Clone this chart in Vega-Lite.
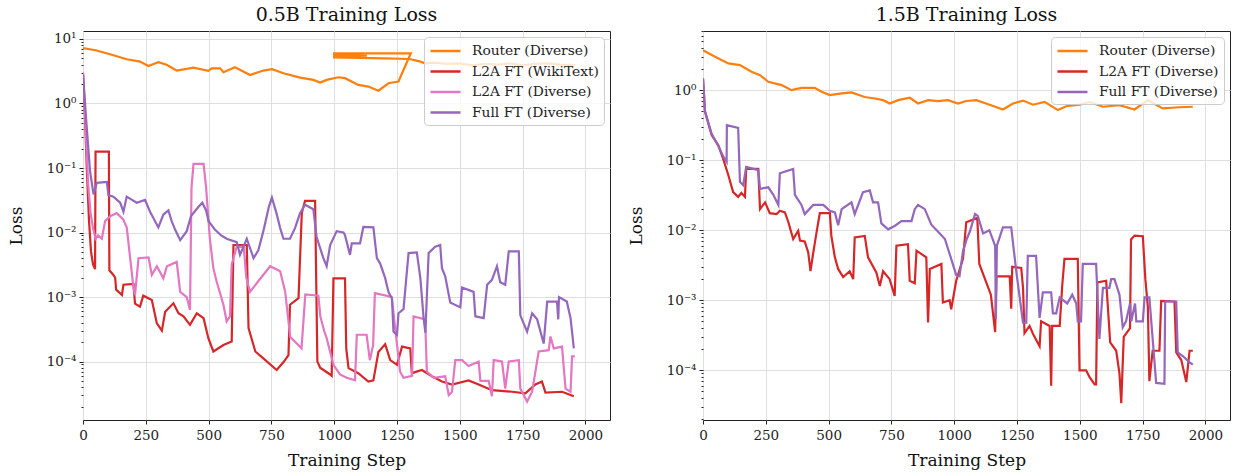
{
"$schema": "https://vega.github.io/schema/vega-lite/v6.json",
"padding": {"left": 6, "top": 5, "right": 2, "bottom": 2},
"background": "white",
"config": {
  "font": "DejaVu Serif",
  "view": {"stroke": "#222222", "strokeWidth": 1, "strokeOpacity": 1},
  "axis": {"labelFont": "DejaVu Serif", "titleFont": "DejaVu Serif", "labelFontSize": 13.5, "titleFontSize": 17, "titleFontWeight": "normal", "labelColor": "#222222", "titleColor": "#111111", "domain": false, "tickColor": "#222222", "gridColor": "#dedede", "gridWidth": 1},
  "title": {"font": "DejaVu Serif", "fontSize": 19, "fontWeight": "normal", "anchor": "middle", "offset": 6, "color": "#111111"},
  "legend": {"orient": "top-right", "offset": 6, "symbolType": "M-1,0L3,0", "symbolSize": 225, "symbolStrokeWidth": 2.5, "labelFont": "DejaVu Serif", "labelFontSize": 13.8, "labelColor": "#222222", "fillColor": "rgba(255,255,255,0.8)", "strokeColor": "#cccccc", "cornerRadius": 4, "padding": 5, "rowPadding": 4.5, "labelOffset": 25}
},
"datasets": {
"leftRouter": [
{"i":1,"s":"Router (Diverse)","x":0,"y":7.2},{"i":2,"s":"Router (Diverse)","x":50,"y":6.7},{"i":3,"s":"Router (Diverse)","x":108,"y":5.8},{"i":4,"s":"Router (Diverse)","x":174,"y":4.85},{"i":5,"s":"Router (Diverse)","x":227,"y":4.47},{"i":6,"s":"Router (Diverse)","x":260,"y":3.82},{"i":7,"s":"Router (Diverse)","x":300,"y":4.36},{"i":8,"s":"Router (Diverse)","x":333,"y":3.98},{"i":9,"s":"Router (Diverse)","x":373,"y":3.24},{"i":10,"s":"Router (Diverse)","x":440,"y":3.6},{"i":11,"s":"Router (Diverse)","x":499,"y":3.2},{"i":12,"s":"Router (Diverse)","x":512,"y":3.5},{"i":13,"s":"Router (Diverse)","x":546,"y":3.5},{"i":14,"s":"Router (Diverse)","x":559,"y":3.05},{"i":15,"s":"Router (Diverse)","x":605,"y":3.65},{"i":16,"s":"Router (Diverse)","x":665,"y":2.77},{"i":17,"s":"Router (Diverse)","x":718,"y":3.24},{"i":18,"s":"Router (Diverse)","x":753,"y":3.4},{"i":19,"s":"Router (Diverse)","x":798,"y":2.94},{"i":20,"s":"Router (Diverse)","x":864,"y":2.52},{"i":21,"s":"Router (Diverse)","x":917,"y":2.32},{"i":22,"s":"Router (Diverse)","x":944,"y":2.11},{"i":23,"s":"Router (Diverse)","x":970,"y":2.32},{"i":24,"s":"Router (Diverse)","x":1017,"y":2.55},{"i":25,"s":"Router (Diverse)","x":1043,"y":2.47},{"i":26,"s":"Router (Diverse)","x":1096,"y":1.94},{"i":27,"s":"Router (Diverse)","x":1136,"y":1.83},{"i":28,"s":"Router (Diverse)","x":1176,"y":1.58},{"i":29,"s":"Router (Diverse)","x":1216,"y":2.06},{"i":30,"s":"Router (Diverse)","x":1256,"y":2.19},{"i":31,"s":"Router (Diverse)","x":1305,"y":6.0},{"i":32,"s":"Router (Diverse)","x":1000,"y":6.0},{"i":33,"s":"Router (Diverse)","x":1000,"y":5.7},{"i":34,"s":"Router (Diverse)","x":1130,"y":5.5},{"i":35,"s":"Router (Diverse)","x":1000,"y":5.3},{"i":36,"s":"Router (Diverse)","x":1000,"y":5.2},{"i":37,"s":"Router (Diverse)","x":1100,"y":5.1},{"i":38,"s":"Router (Diverse)","x":1200,"y":5.0},{"i":39,"s":"Router (Diverse)","x":1300,"y":4.9},{"i":40,"s":"Router (Diverse)","x":1340,"y":4.5},{"i":41,"s":"Router (Diverse)","x":1362,"y":4.2},{"i":42,"s":"Router (Diverse)","x":1400,"y":4.3},{"i":43,"s":"Router (Diverse)","x":1450,"y":4.1},{"i":44,"s":"Router (Diverse)","x":1500,"y":4.2},{"i":45,"s":"Router (Diverse)","x":1550,"y":3.9},{"i":46,"s":"Router (Diverse)","x":1600,"y":4.1},{"i":47,"s":"Router (Diverse)","x":1650,"y":4.0},{"i":48,"s":"Router (Diverse)","x":1700,"y":4.2},{"i":49,"s":"Router (Diverse)","x":1750,"y":3.9},{"i":50,"s":"Router (Diverse)","x":1800,"y":4.1},{"i":51,"s":"Router (Diverse)","x":1850,"y":4.2},{"i":52,"s":"Router (Diverse)","x":1900,"y":4.0},{"i":53,"s":"Router (Diverse)","x":1959,"y":3.95}
],
"left": [
{"s":"L2A FT (WikiText)","x":0,"y":3.0},{"s":"L2A FT (WikiText)","x":8,"y":0.6},{"s":"L2A FT (WikiText)","x":16,"y":0.08},{"s":"L2A FT (WikiText)","x":24,"y":0.015},{"s":"L2A FT (WikiText)","x":32,"y":0.005},{"s":"L2A FT (WikiText)","x":40,"y":0.0032},{"s":"L2A FT (WikiText)","x":48,"y":0.0027},{"s":"L2A FT (WikiText)","x":50,"y":0.18},{"s":"L2A FT (WikiText)","x":103,"y":0.18},{"s":"L2A FT (WikiText)","x":105,"y":0.0026},{"s":"L2A FT (WikiText)","x":121,"y":0.0022},{"s":"L2A FT (WikiText)","x":128,"y":0.002},{"s":"L2A FT (WikiText)","x":132,"y":0.0013},{"s":"L2A FT (WikiText)","x":155,"y":0.00107},{"s":"L2A FT (WikiText)","x":161,"y":0.00155},{"s":"L2A FT (WikiText)","x":201,"y":0.0016},{"s":"L2A FT (WikiText)","x":207,"y":0.00079},{"s":"L2A FT (WikiText)","x":227,"y":0.00071},{"s":"L2A FT (WikiText)","x":240,"y":0.00105},{"s":"L2A FT (WikiText)","x":274,"y":0.0009},{"s":"L2A FT (WikiText)","x":294,"y":0.00039},{"s":"L2A FT (WikiText)","x":314,"y":0.0003},{"s":"L2A FT (WikiText)","x":327,"y":0.00059},{"s":"L2A FT (WikiText)","x":360,"y":0.0008},{"s":"L2A FT (WikiText)","x":380,"y":0.00056},{"s":"L2A FT (WikiText)","x":400,"y":0.0005},{"s":"L2A FT (WikiText)","x":426,"y":0.00037},{"s":"L2A FT (WikiText)","x":453,"y":0.00056},{"s":"L2A FT (WikiText)","x":480,"y":0.00047},{"s":"L2A FT (WikiText)","x":499,"y":0.00023},{"s":"L2A FT (WikiText)","x":519,"y":0.000143},{"s":"L2A FT (WikiText)","x":559,"y":0.00018},{"s":"L2A FT (WikiText)","x":592,"y":0.000205},{"s":"L2A FT (WikiText)","x":599,"y":0.0064},{"s":"L2A FT (WikiText)","x":652,"y":0.0064},{"s":"L2A FT (WikiText)","x":659,"y":0.00033},{"s":"L2A FT (WikiText)","x":686,"y":0.000143},{"s":"L2A FT (WikiText)","x":718,"y":0.000112},{"s":"L2A FT (WikiText)","x":771,"y":0.000074},{"s":"L2A FT (WikiText)","x":800,"y":0.0001},{"s":"L2A FT (WikiText)","x":818,"y":0.000126},{"s":"L2A FT (WikiText)","x":824,"y":0.00076},{"s":"L2A FT (WikiText)","x":858,"y":0.00096},{"s":"L2A FT (WikiText)","x":871,"y":0.02},{"s":"L2A FT (WikiText)","x":884,"y":0.031},{"s":"L2A FT (WikiText)","x":924,"y":0.031},{"s":"L2A FT (WikiText)","x":933,"y":0.0001},{"s":"L2A FT (WikiText)","x":944,"y":0.00008},{"s":"L2A FT (WikiText)","x":984,"y":0.000063},{"s":"L2A FT (WikiText)","x":990,"y":0.00006},{"s":"L2A FT (WikiText)","x":997,"y":0.00195},{"s":"L2A FT (WikiText)","x":1043,"y":0.00195},{"s":"L2A FT (WikiText)","x":1048,"y":0.00016},{"s":"L2A FT (WikiText)","x":1057,"y":0.000079},{"s":"L2A FT (WikiText)","x":1096,"y":0.000066},{"s":"L2A FT (WikiText)","x":1136,"y":0.000049},{"s":"L2A FT (WikiText)","x":1156,"y":0.000051},{"s":"L2A FT (WikiText)","x":1176,"y":0.00014},{"s":"L2A FT (WikiText)","x":1203,"y":0.000186},{"s":"L2A FT (WikiText)","x":1223,"y":0.000105},{"s":"L2A FT (WikiText)","x":1250,"y":0.000089},{"s":"L2A FT (WikiText)","x":1270,"y":0.00017},{"s":"L2A FT (WikiText)","x":1303,"y":0.00016},{"s":"L2A FT (WikiText)","x":1309,"y":0.000066},{"s":"L2A FT (WikiText)","x":1349,"y":0.000074},{"s":"L2A FT (WikiText)","x":1389,"y":0.000059},{"s":"L2A FT (WikiText)","x":1429,"y":0.000049},{"s":"L2A FT (WikiText)","x":1469,"y":0.000044},{"s":"L2A FT (WikiText)","x":1535,"y":0.000051},{"s":"L2A FT (WikiText)","x":1575,"y":0.000044},{"s":"L2A FT (WikiText)","x":1628,"y":0.000036},{"s":"L2A FT (WikiText)","x":1708,"y":0.000034},{"s":"L2A FT (WikiText)","x":1761,"y":0.000032},{"s":"L2A FT (WikiText)","x":1801,"y":0.000044},{"s":"L2A FT (WikiText)","x":1827,"y":0.000049},{"s":"L2A FT (WikiText)","x":1841,"y":0.000033},{"s":"L2A FT (WikiText)","x":1907,"y":0.000034},{"s":"L2A FT (WikiText)","x":1954,"y":0.000029},
{"s":"L2A FT (Diverse)","x":0,"y":3.0},{"s":"L2A FT (Diverse)","x":6,"y":1.2},{"s":"L2A FT (Diverse)","x":12,"y":0.3},{"s":"L2A FT (Diverse)","x":20,"y":0.06},{"s":"L2A FT (Diverse)","x":30,"y":0.02},{"s":"L2A FT (Diverse)","x":40,"y":0.0117},{"s":"L2A FT (Diverse)","x":50,"y":0.008},{"s":"L2A FT (Diverse)","x":60,"y":0.009},{"s":"L2A FT (Diverse)","x":75,"y":0.008},{"s":"L2A FT (Diverse)","x":88,"y":0.015},{"s":"L2A FT (Diverse)","x":110,"y":0.018},{"s":"L2A FT (Diverse)","x":134,"y":0.02},{"s":"L2A FT (Diverse)","x":160,"y":0.016},{"s":"L2A FT (Diverse)","x":174,"y":0.012},{"s":"L2A FT (Diverse)","x":185,"y":0.005},{"s":"L2A FT (Diverse)","x":200,"y":0.0015},{"s":"L2A FT (Diverse)","x":207,"y":0.00107},{"s":"L2A FT (Diverse)","x":221,"y":0.004},{"s":"L2A FT (Diverse)","x":261,"y":0.0041},{"s":"L2A FT (Diverse)","x":274,"y":0.0022},{"s":"L2A FT (Diverse)","x":294,"y":0.003},{"s":"L2A FT (Diverse)","x":320,"y":0.00195},{"s":"L2A FT (Diverse)","x":334,"y":0.003},{"s":"L2A FT (Diverse)","x":373,"y":0.0035},{"s":"L2A FT (Diverse)","x":387,"y":0.0012},{"s":"L2A FT (Diverse)","x":413,"y":0.001},{"s":"L2A FT (Diverse)","x":426,"y":0.00063},{"s":"L2A FT (Diverse)","x":432,"y":0.05},{"s":"L2A FT (Diverse)","x":440,"y":0.116},{"s":"L2A FT (Diverse)","x":480,"y":0.116},{"s":"L2A FT (Diverse)","x":490,"y":0.05},{"s":"L2A FT (Diverse)","x":505,"y":0.008},{"s":"L2A FT (Diverse)","x":519,"y":0.0028},{"s":"L2A FT (Diverse)","x":532,"y":0.00174},{"s":"L2A FT (Diverse)","x":559,"y":0.00076},{"s":"L2A FT (Diverse)","x":572,"y":0.00042},{"s":"L2A FT (Diverse)","x":585,"y":0.0005},{"s":"L2A FT (Diverse)","x":592,"y":0.0032},{"s":"L2A FT (Diverse)","x":612,"y":0.006},{"s":"L2A FT (Diverse)","x":640,"y":0.006},{"s":"L2A FT (Diverse)","x":650,"y":0.002},{"s":"L2A FT (Diverse)","x":665,"y":0.0012},{"s":"L2A FT (Diverse)","x":700,"y":0.0018},{"s":"L2A FT (Diverse)","x":745,"y":0.003},{"s":"L2A FT (Diverse)","x":785,"y":0.0025},{"s":"L2A FT (Diverse)","x":805,"y":0.0012},{"s":"L2A FT (Diverse)","x":825,"y":0.00024},{"s":"L2A FT (Diverse)","x":845,"y":0.0002},{"s":"L2A FT (Diverse)","x":870,"y":0.00016},{"s":"L2A FT (Diverse)","x":885,"y":0.0011},{"s":"L2A FT (Diverse)","x":937,"y":0.00105},{"s":"L2A FT (Diverse)","x":945,"y":0.0005},{"s":"L2A FT (Diverse)","x":960,"y":0.0003},{"s":"L2A FT (Diverse)","x":970,"y":0.00023},{"s":"L2A FT (Diverse)","x":997,"y":0.000089},{"s":"L2A FT (Diverse)","x":1023,"y":0.000063},{"s":"L2A FT (Diverse)","x":1050,"y":0.000056},{"s":"L2A FT (Diverse)","x":1083,"y":0.000051},{"s":"L2A FT (Diverse)","x":1090,"y":0.00026},{"s":"L2A FT (Diverse)","x":1129,"y":0.00026},{"s":"L2A FT (Diverse)","x":1142,"y":0.000105},{"s":"L2A FT (Diverse)","x":1155,"y":0.00018},{"s":"L2A FT (Diverse)","x":1162,"y":0.00115},{"s":"L2A FT (Diverse)","x":1229,"y":0.001},{"s":"L2A FT (Diverse)","x":1262,"y":0.00007},{"s":"L2A FT (Diverse)","x":1276,"y":0.000056},{"s":"L2A FT (Diverse)","x":1310,"y":0.00006},{"s":"L2A FT (Diverse)","x":1316,"y":0.0005},{"s":"L2A FT (Diverse)","x":1362,"y":0.00045},{"s":"L2A FT (Diverse)","x":1369,"y":0.00007},{"s":"L2A FT (Diverse)","x":1396,"y":0.000056},{"s":"L2A FT (Diverse)","x":1442,"y":0.000059},{"s":"L2A FT (Diverse)","x":1456,"y":0.00003},{"s":"L2A FT (Diverse)","x":1469,"y":0.000034},{"s":"L2A FT (Diverse)","x":1482,"y":0.000105},{"s":"L2A FT (Diverse)","x":1509,"y":0.000105},{"s":"L2A FT (Diverse)","x":1535,"y":0.000085},{"s":"L2A FT (Diverse)","x":1575,"y":0.0001},{"s":"L2A FT (Diverse)","x":1582,"y":0.00005},{"s":"L2A FT (Diverse)","x":1615,"y":0.00005},{"s":"L2A FT (Diverse)","x":1628,"y":0.000029},{"s":"L2A FT (Diverse)","x":1635,"y":0.000105},{"s":"L2A FT (Diverse)","x":1668,"y":0.0001},{"s":"L2A FT (Diverse)","x":1681,"y":0.000038},{"s":"L2A FT (Diverse)","x":1695,"y":0.0001},{"s":"L2A FT (Diverse)","x":1735,"y":0.000105},{"s":"L2A FT (Diverse)","x":1741,"y":0.000038},{"s":"L2A FT (Diverse)","x":1768,"y":0.000024},{"s":"L2A FT (Diverse)","x":1788,"y":0.000034},{"s":"L2A FT (Diverse)","x":1814,"y":0.000143},{"s":"L2A FT (Diverse)","x":1854,"y":0.00015},{"s":"L2A FT (Diverse)","x":1861,"y":0.000245},{"s":"L2A FT (Diverse)","x":1874,"y":0.00016},{"s":"L2A FT (Diverse)","x":1907,"y":0.00017},{"s":"L2A FT (Diverse)","x":1921,"y":0.000038},{"s":"L2A FT (Diverse)","x":1941,"y":0.000034},{"s":"L2A FT (Diverse)","x":1947,"y":0.00012},{"s":"L2A FT (Diverse)","x":1958,"y":0.00012},
{"s":"Full FT (Diverse)","x":0,"y":2.8},{"s":"Full FT (Diverse)","x":15,"y":0.42},{"s":"Full FT (Diverse)","x":28,"y":0.089},{"s":"Full FT (Diverse)","x":42,"y":0.039},{"s":"Full FT (Diverse)","x":55,"y":0.059},{"s":"Full FT (Diverse)","x":95,"y":0.061},{"s":"Full FT (Diverse)","x":101,"y":0.038},{"s":"Full FT (Diverse)","x":121,"y":0.036},{"s":"Full FT (Diverse)","x":148,"y":0.029},{"s":"Full FT (Diverse)","x":161,"y":0.021},{"s":"Full FT (Diverse)","x":174,"y":0.036},{"s":"Full FT (Diverse)","x":214,"y":0.029},{"s":"Full FT (Diverse)","x":247,"y":0.032},{"s":"Full FT (Diverse)","x":267,"y":0.021},{"s":"Full FT (Diverse)","x":300,"y":0.012},{"s":"Full FT (Diverse)","x":320,"y":0.019},{"s":"Full FT (Diverse)","x":340,"y":0.022},{"s":"Full FT (Diverse)","x":353,"y":0.015},{"s":"Full FT (Diverse)","x":367,"y":0.011},{"s":"Full FT (Diverse)","x":387,"y":0.0076},{"s":"Full FT (Diverse)","x":413,"y":0.0105},{"s":"Full FT (Diverse)","x":430,"y":0.018},{"s":"Full FT (Diverse)","x":460,"y":0.025},{"s":"Full FT (Diverse)","x":475,"y":0.029},{"s":"Full FT (Diverse)","x":490,"y":0.022},{"s":"Full FT (Diverse)","x":500,"y":0.015},{"s":"Full FT (Diverse)","x":526,"y":0.011},{"s":"Full FT (Diverse)","x":550,"y":0.009},{"s":"Full FT (Diverse)","x":572,"y":0.008},{"s":"Full FT (Diverse)","x":612,"y":0.0071},{"s":"Full FT (Diverse)","x":625,"y":0.0045},{"s":"Full FT (Diverse)","x":652,"y":0.008},{"s":"Full FT (Diverse)","x":679,"y":0.004},{"s":"Full FT (Diverse)","x":698,"y":0.0053},{"s":"Full FT (Diverse)","x":718,"y":0.0105},{"s":"Full FT (Diverse)","x":740,"y":0.025},{"s":"Full FT (Diverse)","x":752,"y":0.035},{"s":"Full FT (Diverse)","x":770,"y":0.02},{"s":"Full FT (Diverse)","x":785,"y":0.0117},{"s":"Full FT (Diverse)","x":798,"y":0.008},{"s":"Full FT (Diverse)","x":824,"y":0.008},{"s":"Full FT (Diverse)","x":844,"y":0.0117},{"s":"Full FT (Diverse)","x":864,"y":0.02},{"s":"Full FT (Diverse)","x":884,"y":0.027},{"s":"Full FT (Diverse)","x":917,"y":0.023},{"s":"Full FT (Diverse)","x":930,"y":0.0085},{"s":"Full FT (Diverse)","x":957,"y":0.004},{"s":"Full FT (Diverse)","x":970,"y":0.003},{"s":"Full FT (Diverse)","x":984,"y":0.0064},{"s":"Full FT (Diverse)","x":1010,"y":0.0105},{"s":"Full FT (Diverse)","x":1037,"y":0.01},{"s":"Full FT (Diverse)","x":1043,"y":0.0091},{"s":"Full FT (Diverse)","x":1063,"y":0.0045},{"s":"Full FT (Diverse)","x":1070,"y":0.0068},{"s":"Full FT (Diverse)","x":1103,"y":0.0068},{"s":"Full FT (Diverse)","x":1116,"y":0.0122},{"s":"Full FT (Diverse)","x":1156,"y":0.012},{"s":"Full FT (Diverse)","x":1170,"y":0.004},{"s":"Full FT (Diverse)","x":1183,"y":0.0033},{"s":"Full FT (Diverse)","x":1203,"y":0.00196},{"s":"Full FT (Diverse)","x":1216,"y":0.0012},{"s":"Full FT (Diverse)","x":1230,"y":0.00095},{"s":"Full FT (Diverse)","x":1236,"y":0.00029},{"s":"Full FT (Diverse)","x":1250,"y":0.00026},{"s":"Full FT (Diverse)","x":1256,"y":0.00056},{"s":"Full FT (Diverse)","x":1276,"y":0.00065},{"s":"Full FT (Diverse)","x":1296,"y":0.0048},{"s":"Full FT (Diverse)","x":1329,"y":0.0049},{"s":"Full FT (Diverse)","x":1343,"y":0.00196},{"s":"Full FT (Diverse)","x":1356,"y":0.00047},{"s":"Full FT (Diverse)","x":1363,"y":0.00028},{"s":"Full FT (Diverse)","x":1376,"y":0.0048},{"s":"Full FT (Diverse)","x":1402,"y":0.006},{"s":"Full FT (Diverse)","x":1422,"y":0.0064},{"s":"Full FT (Diverse)","x":1429,"y":0.0028},{"s":"Full FT (Diverse)","x":1442,"y":0.0021},{"s":"Full FT (Diverse)","x":1462,"y":0.00082},{"s":"Full FT (Diverse)","x":1502,"y":0.00069},{"s":"Full FT (Diverse)","x":1509,"y":0.0014},{"s":"Full FT (Diverse)","x":1555,"y":0.0012},{"s":"Full FT (Diverse)","x":1562,"y":0.0005},{"s":"Full FT (Diverse)","x":1595,"y":0.00047},{"s":"Full FT (Diverse)","x":1609,"y":0.00155},{"s":"Full FT (Diverse)","x":1628,"y":0.00185},{"s":"Full FT (Diverse)","x":1648,"y":0.003},{"s":"Full FT (Diverse)","x":1661,"y":0.0017},{"s":"Full FT (Diverse)","x":1681,"y":0.00155},{"s":"Full FT (Diverse)","x":1695,"y":0.0051},{"s":"Full FT (Diverse)","x":1735,"y":0.0051},{"s":"Full FT (Diverse)","x":1741,"y":0.00052},{"s":"Full FT (Diverse)","x":1768,"y":0.00029},{"s":"Full FT (Diverse)","x":1788,"y":0.00056},{"s":"Full FT (Diverse)","x":1808,"y":0.00045},{"s":"Full FT (Diverse)","x":1834,"y":0.00019},{"s":"Full FT (Diverse)","x":1848,"y":0.00085},{"s":"Full FT (Diverse)","x":1887,"y":0.00085},{"s":"Full FT (Diverse)","x":1892,"y":0.00045},{"s":"Full FT (Diverse)","x":1895,"y":0.001},{"s":"Full FT (Diverse)","x":1926,"y":0.00085},{"s":"Full FT (Diverse)","x":1941,"y":0.00047},{"s":"Full FT (Diverse)","x":1954,"y":0.00016}
],
"right": [
{"s":"Router (Diverse)","x":0,"y":3.73},{"s":"Router (Diverse)","x":48,"y":3.0},{"s":"Router (Diverse)","x":101,"y":2.41},{"s":"Router (Diverse)","x":147,"y":2.28},{"s":"Router (Diverse)","x":193,"y":1.83},{"s":"Router (Diverse)","x":227,"y":1.64},{"s":"Router (Diverse)","x":260,"y":1.32},{"s":"Router (Diverse)","x":313,"y":1.18},{"s":"Router (Diverse)","x":352,"y":1.0},{"s":"Router (Diverse)","x":393,"y":1.08},{"s":"Router (Diverse)","x":445,"y":1.08},{"s":"Router (Diverse)","x":472,"y":0.95},{"s":"Router (Diverse)","x":505,"y":0.85},{"s":"Router (Diverse)","x":552,"y":0.9},{"s":"Router (Diverse)","x":591,"y":0.93},{"s":"Router (Diverse)","x":644,"y":0.8},{"s":"Router (Diverse)","x":684,"y":0.76},{"s":"Router (Diverse)","x":717,"y":0.72},{"s":"Router (Diverse)","x":743,"y":0.645},{"s":"Router (Diverse)","x":777,"y":0.72},{"s":"Router (Diverse)","x":823,"y":0.78},{"s":"Router (Diverse)","x":856,"y":0.645},{"s":"Router (Diverse)","x":896,"y":0.72},{"s":"Router (Diverse)","x":936,"y":0.7},{"s":"Router (Diverse)","x":975,"y":0.72},{"s":"Router (Diverse)","x":1015,"y":0.645},{"s":"Router (Diverse)","x":1048,"y":0.7},{"s":"Router (Diverse)","x":1088,"y":0.72},{"s":"Router (Diverse)","x":1141,"y":0.62},{"s":"Router (Diverse)","x":1194,"y":0.53},{"s":"Router (Diverse)","x":1234,"y":0.645},{"s":"Router (Diverse)","x":1274,"y":0.71},{"s":"Router (Diverse)","x":1314,"y":0.62},{"s":"Router (Diverse)","x":1360,"y":0.68},{"s":"Router (Diverse)","x":1413,"y":0.52},{"s":"Router (Diverse)","x":1446,"y":0.59},{"s":"Router (Diverse)","x":1499,"y":0.62},{"s":"Router (Diverse)","x":1539,"y":0.68},{"s":"Router (Diverse)","x":1592,"y":0.58},{"s":"Router (Diverse)","x":1658,"y":0.61},{"s":"Router (Diverse)","x":1718,"y":0.53},{"s":"Router (Diverse)","x":1771,"y":0.72},{"s":"Router (Diverse)","x":1830,"y":0.55},{"s":"Router (Diverse)","x":1897,"y":0.57},{"s":"Router (Diverse)","x":1950,"y":0.58},
{"s":"L2A FT (Diverse)","x":0,"y":1.47},{"s":"L2A FT (Diverse)","x":8,"y":0.49},{"s":"L2A FT (Diverse)","x":34,"y":0.23},{"s":"L2A FT (Diverse)","x":61,"y":0.163},{"s":"L2A FT (Diverse)","x":80,"y":0.105},{"s":"L2A FT (Diverse)","x":101,"y":0.061},{"s":"L2A FT (Diverse)","x":120,"y":0.035},{"s":"L2A FT (Diverse)","x":140,"y":0.03},{"s":"L2A FT (Diverse)","x":153,"y":0.034},{"s":"L2A FT (Diverse)","x":167,"y":0.03},{"s":"L2A FT (Diverse)","x":172,"y":0.075},{"s":"L2A FT (Diverse)","x":220,"y":0.075},{"s":"L2A FT (Diverse)","x":227,"y":0.02},{"s":"L2A FT (Diverse)","x":247,"y":0.025},{"s":"L2A FT (Diverse)","x":266,"y":0.0175},{"s":"L2A FT (Diverse)","x":293,"y":0.017},{"s":"L2A FT (Diverse)","x":306,"y":0.019},{"s":"L2A FT (Diverse)","x":326,"y":0.018},{"s":"L2A FT (Diverse)","x":340,"y":0.013},{"s":"L2A FT (Diverse)","x":359,"y":0.0075},{"s":"L2A FT (Diverse)","x":379,"y":0.0098},{"s":"L2A FT (Diverse)","x":386,"y":0.0071},{"s":"L2A FT (Diverse)","x":405,"y":0.0069},{"s":"L2A FT (Diverse)","x":419,"y":0.0048},{"s":"L2A FT (Diverse)","x":428,"y":0.0026},{"s":"L2A FT (Diverse)","x":439,"y":0.0048},{"s":"L2A FT (Diverse)","x":452,"y":0.0093},{"s":"L2A FT (Diverse)","x":465,"y":0.0175},{"s":"L2A FT (Diverse)","x":505,"y":0.0175},{"s":"L2A FT (Diverse)","x":511,"y":0.0083},{"s":"L2A FT (Diverse)","x":525,"y":0.0041},{"s":"L2A FT (Diverse)","x":538,"y":0.0028},{"s":"L2A FT (Diverse)","x":558,"y":0.00215},{"s":"L2A FT (Diverse)","x":584,"y":0.0026},{"s":"L2A FT (Diverse)","x":598,"y":0.002},{"s":"L2A FT (Diverse)","x":604,"y":0.0079},{"s":"L2A FT (Diverse)","x":644,"y":0.0083},{"s":"L2A FT (Diverse)","x":657,"y":0.0041},{"s":"L2A FT (Diverse)","x":690,"y":0.0025},{"s":"L2A FT (Diverse)","x":704,"y":0.0016},{"s":"L2A FT (Diverse)","x":717,"y":0.0026},{"s":"L2A FT (Diverse)","x":743,"y":0.002},{"s":"L2A FT (Diverse)","x":763,"y":0.00115},{"s":"L2A FT (Diverse)","x":770,"y":0.006},{"s":"L2A FT (Diverse)","x":816,"y":0.0063},{"s":"L2A FT (Diverse)","x":823,"y":0.0019},{"s":"L2A FT (Diverse)","x":843,"y":0.00175},{"s":"L2A FT (Diverse)","x":850,"y":0.0051},{"s":"L2A FT (Diverse)","x":889,"y":0.0041},{"s":"L2A FT (Diverse)","x":896,"y":0.00048},{"s":"L2A FT (Diverse)","x":903,"y":0.0028},{"s":"L2A FT (Diverse)","x":949,"y":0.0033},{"s":"L2A FT (Diverse)","x":955,"y":0.00093},{"s":"L2A FT (Diverse)","x":982,"y":0.001},{"s":"L2A FT (Diverse)","x":988,"y":0.00074},{"s":"L2A FT (Diverse)","x":1008,"y":0.0019},{"s":"L2A FT (Diverse)","x":1035,"y":0.0039},{"s":"L2A FT (Diverse)","x":1048,"y":0.013},{"s":"L2A FT (Diverse)","x":1092,"y":0.015},{"s":"L2A FT (Diverse)","x":1100,"y":0.0033},{"s":"L2A FT (Diverse)","x":1146,"y":0.0012},{"s":"L2A FT (Diverse)","x":1163,"y":0.00035},{"s":"L2A FT (Diverse)","x":1168,"y":0.0022},{"s":"L2A FT (Diverse)","x":1221,"y":0.0022},{"s":"L2A FT (Diverse)","x":1227,"y":0.00076},{"s":"L2A FT (Diverse)","x":1231,"y":0.003},{"s":"L2A FT (Diverse)","x":1267,"y":0.0029},{"s":"L2A FT (Diverse)","x":1274,"y":0.0015},{"s":"L2A FT (Diverse)","x":1280,"y":0.00034},{"s":"L2A FT (Diverse)","x":1300,"y":0.00043},{"s":"L2A FT (Diverse)","x":1314,"y":0.00033},{"s":"L2A FT (Diverse)","x":1340,"y":0.00022},{"s":"L2A FT (Diverse)","x":1346,"y":0.0005},{"s":"L2A FT (Diverse)","x":1380,"y":0.00043},{"s":"L2A FT (Diverse)","x":1386,"y":0.00006},{"s":"L2A FT (Diverse)","x":1390,"y":0.00043},{"s":"L2A FT (Diverse)","x":1420,"y":0.00043},{"s":"L2A FT (Diverse)","x":1430,"y":0.0016},{"s":"L2A FT (Diverse)","x":1439,"y":0.0039},{"s":"L2A FT (Diverse)","x":1492,"y":0.0039},{"s":"L2A FT (Diverse)","x":1499,"y":0.0001},{"s":"L2A FT (Diverse)","x":1525,"y":0.0001},{"s":"L2A FT (Diverse)","x":1539,"y":0.00008},{"s":"L2A FT (Diverse)","x":1559,"y":0.000063},{"s":"L2A FT (Diverse)","x":1565,"y":0.000063},{"s":"L2A FT (Diverse)","x":1570,"y":0.0018},{"s":"L2A FT (Diverse)","x":1605,"y":0.0019},{"s":"L2A FT (Diverse)","x":1621,"y":0.00025},{"s":"L2A FT (Diverse)","x":1645,"y":0.00019},{"s":"L2A FT (Diverse)","x":1658,"y":0.00009},{"s":"L2A FT (Diverse)","x":1665,"y":0.000034},{"s":"L2A FT (Diverse)","x":1675,"y":0.0003},{"s":"L2A FT (Diverse)","x":1700,"y":0.0004},{"s":"L2A FT (Diverse)","x":1704,"y":0.0074},{"s":"L2A FT (Diverse)","x":1718,"y":0.0084},{"s":"L2A FT (Diverse)","x":1751,"y":0.0082},{"s":"L2A FT (Diverse)","x":1761,"y":0.002},{"s":"L2A FT (Diverse)","x":1771,"y":0.0008},{"s":"L2A FT (Diverse)","x":1777,"y":0.00007},{"s":"L2A FT (Diverse)","x":1790,"y":0.00019},{"s":"L2A FT (Diverse)","x":1817,"y":0.00019},{"s":"L2A FT (Diverse)","x":1824,"y":0.00098},{"s":"L2A FT (Diverse)","x":1877,"y":0.00096},{"s":"L2A FT (Diverse)","x":1884,"y":0.00018},{"s":"L2A FT (Diverse)","x":1904,"y":0.00014},{"s":"L2A FT (Diverse)","x":1924,"y":0.000068},{"s":"L2A FT (Diverse)","x":1937,"y":0.00019},{"s":"L2A FT (Diverse)","x":1950,"y":0.00019},
{"s":"Full FT (Diverse)","x":0,"y":1.47},{"s":"Full FT (Diverse)","x":8,"y":0.5},{"s":"Full FT (Diverse)","x":34,"y":0.24},{"s":"Full FT (Diverse)","x":61,"y":0.16},{"s":"Full FT (Diverse)","x":80,"y":0.115},{"s":"Full FT (Diverse)","x":94,"y":0.095},{"s":"Full FT (Diverse)","x":95,"y":0.316},{"s":"Full FT (Diverse)","x":140,"y":0.29},{"s":"Full FT (Diverse)","x":147,"y":0.049},{"s":"Full FT (Diverse)","x":160,"y":0.044},{"s":"Full FT (Diverse)","x":172,"y":0.08},{"s":"Full FT (Diverse)","x":220,"y":0.072},{"s":"Full FT (Diverse)","x":227,"y":0.039},{"s":"Full FT (Diverse)","x":260,"y":0.041},{"s":"Full FT (Diverse)","x":280,"y":0.032},{"s":"Full FT (Diverse)","x":300,"y":0.023},{"s":"Full FT (Diverse)","x":306,"y":0.065},{"s":"Full FT (Diverse)","x":359,"y":0.075},{"s":"Full FT (Diverse)","x":366,"y":0.032},{"s":"Full FT (Diverse)","x":392,"y":0.023},{"s":"Full FT (Diverse)","x":405,"y":0.017},{"s":"Full FT (Diverse)","x":439,"y":0.023},{"s":"Full FT (Diverse)","x":479,"y":0.023},{"s":"Full FT (Diverse)","x":505,"y":0.019},{"s":"Full FT (Diverse)","x":525,"y":0.018},{"s":"Full FT (Diverse)","x":538,"y":0.0118},{"s":"Full FT (Diverse)","x":552,"y":0.02},{"s":"Full FT (Diverse)","x":591,"y":0.025},{"s":"Full FT (Diverse)","x":604,"y":0.017},{"s":"Full FT (Diverse)","x":637,"y":0.035},{"s":"Full FT (Diverse)","x":664,"y":0.037},{"s":"Full FT (Diverse)","x":677,"y":0.025},{"s":"Full FT (Diverse)","x":697,"y":0.025},{"s":"Full FT (Diverse)","x":710,"y":0.0125},{"s":"Full FT (Diverse)","x":737,"y":0.0103},{"s":"Full FT (Diverse)","x":763,"y":0.0115},{"s":"Full FT (Diverse)","x":790,"y":0.0135},{"s":"Full FT (Diverse)","x":830,"y":0.0135},{"s":"Full FT (Diverse)","x":843,"y":0.02},{"s":"Full FT (Diverse)","x":856,"y":0.023},{"s":"Full FT (Diverse)","x":883,"y":0.02},{"s":"Full FT (Diverse)","x":909,"y":0.012},{"s":"Full FT (Diverse)","x":936,"y":0.0095},{"s":"Full FT (Diverse)","x":963,"y":0.0075},{"s":"Full FT (Diverse)","x":988,"y":0.0039},{"s":"Full FT (Diverse)","x":1008,"y":0.0023},{"s":"Full FT (Diverse)","x":1021,"y":0.0022},{"s":"Full FT (Diverse)","x":1035,"y":0.005},{"s":"Full FT (Diverse)","x":1050,"y":0.0075},{"s":"Full FT (Diverse)","x":1062,"y":0.0095},{"s":"Full FT (Diverse)","x":1083,"y":0.017},{"s":"Full FT (Diverse)","x":1094,"y":0.016},{"s":"Full FT (Diverse)","x":1115,"y":0.009},{"s":"Full FT (Diverse)","x":1140,"y":0.01},{"s":"Full FT (Diverse)","x":1163,"y":0.006},{"s":"Full FT (Diverse)","x":1166,"y":0.00054},{"s":"Full FT (Diverse)","x":1170,"y":0.006},{"s":"Full FT (Diverse)","x":1194,"y":0.011},{"s":"Full FT (Diverse)","x":1227,"y":0.011},{"s":"Full FT (Diverse)","x":1247,"y":0.0026},{"s":"Full FT (Diverse)","x":1274,"y":0.00048},{"s":"Full FT (Diverse)","x":1287,"y":0.00048},{"s":"Full FT (Diverse)","x":1293,"y":0.0043},{"s":"Full FT (Diverse)","x":1326,"y":0.0043},{"s":"Full FT (Diverse)","x":1340,"y":0.00056},{"s":"Full FT (Diverse)","x":1353,"y":0.0013},{"s":"Full FT (Diverse)","x":1386,"y":0.0013},{"s":"Full FT (Diverse)","x":1393,"y":0.00065},{"s":"Full FT (Diverse)","x":1406,"y":0.00065},{"s":"Full FT (Diverse)","x":1420,"y":0.0011},{"s":"Full FT (Diverse)","x":1450,"y":0.0009},{"s":"Full FT (Diverse)","x":1470,"y":0.0012},{"s":"Full FT (Diverse)","x":1486,"y":0.0009},{"s":"Full FT (Diverse)","x":1492,"y":0.0005},{"s":"Full FT (Diverse)","x":1505,"y":0.0005},{"s":"Full FT (Diverse)","x":1512,"y":0.0033},{"s":"Full FT (Diverse)","x":1565,"y":0.0033},{"s":"Full FT (Diverse)","x":1578,"y":0.00028},{"s":"Full FT (Diverse)","x":1592,"y":0.0015},{"s":"Full FT (Diverse)","x":1618,"y":0.0015},{"s":"Full FT (Diverse)","x":1625,"y":0.002},{"s":"Full FT (Diverse)","x":1638,"y":0.002},{"s":"Full FT (Diverse)","x":1658,"y":0.0012},{"s":"Full FT (Diverse)","x":1671,"y":0.00041},{"s":"Full FT (Diverse)","x":1684,"y":0.0005},{"s":"Full FT (Diverse)","x":1700,"y":0.0009},{"s":"Full FT (Diverse)","x":1705,"y":0.0005},{"s":"Full FT (Diverse)","x":1720,"y":0.0009},{"s":"Full FT (Diverse)","x":1725,"y":0.0005},{"s":"Full FT (Diverse)","x":1751,"y":0.0005},{"s":"Full FT (Diverse)","x":1758,"y":0.0011},{"s":"Full FT (Diverse)","x":1777,"y":0.0011},{"s":"Full FT (Diverse)","x":1804,"y":0.000066},{"s":"Full FT (Diverse)","x":1837,"y":0.000064},{"s":"Full FT (Diverse)","x":1840,"y":0.00096},{"s":"Full FT (Diverse)","x":1884,"y":0.00096},{"s":"Full FT (Diverse)","x":1890,"y":0.00018},{"s":"Full FT (Diverse)","x":1910,"y":0.00016},{"s":"Full FT (Diverse)","x":1937,"y":0.00013},{"s":"Full FT (Diverse)","x":1950,"y":0.00012}
]
},
"spacing": 15,
"resolve": {"scale": {"color": "independent"}},
"hconcat": [
{
 "title": "0.5B Training Loss",
 "width": 527, "height": 389,
 "view": {"stroke": "#222222", "strokeWidth": 1},
 "layer": [
  {
   "data": {"name": "leftRouter"},
   "mark": {"type": "line", "strokeWidth": 2.2, "clip": true},
   "encoding": {
    "x": {"field": "x", "type": "quantitative", "scale": {"domain": [0, 2098], "nice": false}, "axis": {"title": "Training Step", "format": "d", "values": [0,250,500,750,1000,1250,1500,1750,2000], "tickSize": 4, "labelPadding": 4, "titlePadding": 11, "labelFlush": false}},
    "y": {"field": "y", "type": "quantitative", "scale": {"type": "log", "domain": [0.0000124, 13.3], "nice": false},
     "axis": {"title": "Loss", "titlePadding": 21, "labelPadding": 3, "labelOverlap": false, "labelBound": false,
      "values": [0.00002,0.00003,0.00004,0.00005,0.00006,0.00007,0.00008,0.00009,0.0001,0.0002,0.0003,0.0004,0.0005,0.0006,0.0007,0.0008,0.0009,0.001,0.002,0.003,0.004,0.005,0.006,0.007,0.008,0.009,0.01,0.02,0.03,0.04,0.05,0.06,0.07,0.08,0.09,0.1,0.2,0.3,0.4,0.5,0.6,0.7,0.8,0.9,1,2,3,4,5,6,7,8,9,10],
      "labelExpr": "abs(log(datum.value)/LN10 - round(log(datum.value)/LN10)) < 0.01 ? '10' + (round(log(datum.value)/LN10) == 1 ? '¹' : round(log(datum.value)/LN10) == 0 ? '⁰' : round(log(datum.value)/LN10) == -1 ? '⁻¹' : round(log(datum.value)/LN10) == -2 ? '⁻²' : round(log(datum.value)/LN10) == -3 ? '⁻³' : '⁻⁴') : ''",
      "labelFontSize": {"condition": {"test": "abs(log(datum.value)/LN10 - round(log(datum.value)/LN10)) < 0.01", "value": 13.5}, "value": 0},
      "tickSize": {"condition": {"test": "abs(log(datum.value)/LN10 - round(log(datum.value)/LN10)) < 0.01", "value": 4}, "value": 2},
      "gridOpacity": {"condition": {"test": "abs(log(datum.value)/LN10 - round(log(datum.value)/LN10)) < 0.01", "value": 1}, "value": 0}
     }},
    "order": {"field": "i", "type": "quantitative"},
    "color": {"field": "s", "type": "nominal", "scale": {"domain": ["Router (Diverse)", "L2A FT (WikiText)", "L2A FT (Diverse)", "Full FT (Diverse)"], "range": ["#ff7f0e", "#d62728", "#e377c2", "#9467bd"]}, "legend": {"title": null}}
   }
  },
  {
   "data": {"name": "left"},
   "mark": {"type": "line", "strokeWidth": 2.2, "clip": true},
   "encoding": {
    "x": {"field": "x", "type": "quantitative"},
    "y": {"field": "y", "type": "quantitative"},
    "color": {"field": "s", "type": "nominal"}
   }
  }
 ]
},
{
 "title": "1.5B Training Loss",
 "width": 527, "height": 389,
 "view": {"stroke": "#222222", "strokeWidth": 1},
 "data": {"name": "right"},
 "mark": {"type": "line", "strokeWidth": 2.2, "clip": true},
 "encoding": {
  "x": {"field": "x", "type": "quantitative", "scale": {"domain": [0, 2098], "nice": false}, "axis": {"title": "Training Step", "format": "d", "values": [0,250,500,750,1000,1250,1500,1750,2000], "tickSize": 4, "labelPadding": 4, "titlePadding": 11, "labelFlush": false}},
  "y": {"field": "y", "type": "quantitative", "scale": {"type": "log", "domain": [0.0000195, 7.0], "nice": false},
   "axis": {"title": "Loss", "titlePadding": 21, "labelPadding": 3, "labelOverlap": false, "labelBound": false,
    "values": [0.00002,0.00003,0.00004,0.00005,0.00006,0.00007,0.00008,0.00009,0.0001,0.0002,0.0003,0.0004,0.0005,0.0006,0.0007,0.0008,0.0009,0.001,0.002,0.003,0.004,0.005,0.006,0.007,0.008,0.009,0.01,0.02,0.03,0.04,0.05,0.06,0.07,0.08,0.09,0.1,0.2,0.3,0.4,0.5,0.6,0.7,0.8,0.9,1,2,3,4,5,6,7],
    "labelExpr": "abs(log(datum.value)/LN10 - round(log(datum.value)/LN10)) < 0.01 ? '10' + (round(log(datum.value)/LN10) == 1 ? '¹' : round(log(datum.value)/LN10) == 0 ? '⁰' : round(log(datum.value)/LN10) == -1 ? '⁻¹' : round(log(datum.value)/LN10) == -2 ? '⁻²' : round(log(datum.value)/LN10) == -3 ? '⁻³' : '⁻⁴') : ''",
    "labelFontSize": {"condition": {"test": "abs(log(datum.value)/LN10 - round(log(datum.value)/LN10)) < 0.01", "value": 13.5}, "value": 0},
    "tickSize": {"condition": {"test": "abs(log(datum.value)/LN10 - round(log(datum.value)/LN10)) < 0.01", "value": 4}, "value": 2},
    "gridOpacity": {"condition": {"test": "abs(log(datum.value)/LN10 - round(log(datum.value)/LN10)) < 0.01", "value": 1}, "value": 0}
   }},
  "color": {"field": "s", "type": "nominal", "scale": {"domain": ["Router (Diverse)", "L2A FT (Diverse)", "Full FT (Diverse)"], "range": ["#ff7f0e", "#d62728", "#9467bd"]}, "legend": {"title": null}}
 }
}
]
}
